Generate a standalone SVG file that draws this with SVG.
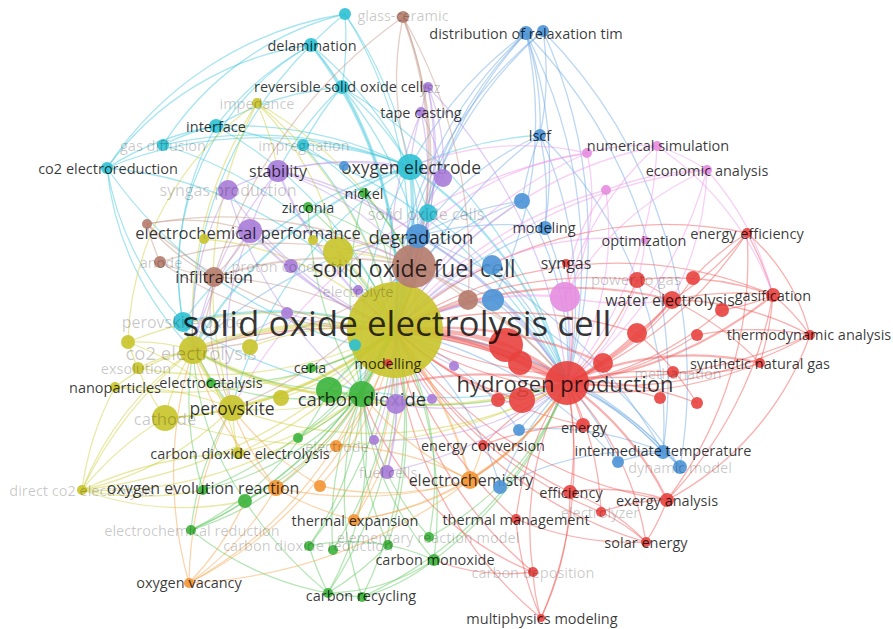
<svg xmlns="http://www.w3.org/2000/svg" width="893" height="629" viewBox="0 0 893 629">
<style>
.e{fill:none;stroke-width:1.3;stroke-opacity:.45}
.r{stroke:#ef5350}.g{stroke:#5ec75e}.b{stroke:#6aa6e2}.y{stroke:#cfcf3c}.p{stroke:#b792e6}.c{stroke:#3fc6dc}.o{stroke:#f4a44c}.br{stroke:#c29486}.pk{stroke:#ef96e8}
.w2{stroke-width:2.2}.w3{stroke-width:3.2}.w4{stroke-width:4.5}.w6{stroke-width:6.5}
.cr{fill:#e8413e}.cg{fill:#3cb43c}.cb{fill:#4b93d6}.cy{fill:#c9c42b}.cp{fill:#a77bd8}.cc{fill:#2cc1d4}.co{fill:#f39433}.cbr{fill:#b57b6c}.cpk{fill:#e68de0}
circle{fill-opacity:.9}
#nodes{font-size:14.5px}
.t{font-family:"Open Sans","Liberation Sans",sans-serif;text-anchor:middle;dominant-baseline:central;fill:#000;fill-opacity:.78}
.f{fill-opacity:.22}
</style>
<rect width="893" height="629" fill="#fff"/>
<g id="connectors">
<g class="e c">
<path d="M345,14 A400,400 0 0,1 395,330"/><path d="M345,14 A400,400 0 0,1 410,167"/><path d="M345,14 A300,300 0 0,0 311,45"/><path d="M345,14 A300,300 0 0,1 342,87"/>
<path d="M311,45 A400,400 0 0,1 395,330" class="w2"/><path d="M311,45 A400,400 0 0,1 410,167"/><path d="M311,45 A300,300 0 0,1 342,87"/><path d="M311,45 A300,300 0 0,0 216,126"/><path d="M311,45 A300,300 0 0,0 107,168"/><path d="M311,45 A260,260 0 0,0 183,322"/><path d="M311,45 A400,400 0 0,0 193,350"/>
<path d="M342,87 A400,400 0 0,1 395,330" class="w2"/><path d="M342,87 A300,300 0 0,1 410,167"/><path d="M342,87 A400,400 0 0,1 418,236"/><path d="M342,87 A300,300 0 0,0 216,126"/><path d="M342,87 A300,300 0 0,0 303,145"/><path d="M342,87 A300,300 0 0,0 278,171"/><path d="M342,87 A500,500 0 0,1 567,383"/>
<path d="M216,126 A400,400 0 0,1 395,330"/><path d="M216,126 A400,400 0 0,1 410,167"/><path d="M216,126 A200,200 0 0,0 163,145"/><path d="M216,126 A300,300 0 0,0 107,168"/><path d="M216,126 A300,300 0 0,0 183,322"/><path d="M216,126 A500,500 0 0,1 567,383"/>
<path d="M107,168 A400,400 0 0,1 395,330"/><path d="M107,168 A300,300 0 0,0 193,350"/><path d="M107,168 A300,300 0 0,0 183,322"/><path d="M107,168 A400,400 0 0,1 410,167"/><path d="M107,168 A450,450 0 0,0 355,345"/><path d="M107,168 A350,350 0 0,1 345,14"/>
<path d="M163,145 A400,400 0 0,1 395,330"/><path d="M163,145 A400,400 0 0,1 410,167"/><path d="M163,145 A300,300 0 0,1 345,14"/>
<path d="M303,145 A400,400 0 0,1 395,330"/><path d="M303,145 A300,300 0 0,1 410,167"/><path d="M303,145 A300,300 0 0,1 414,266"/>
<path d="M410,167 A400,400 0 0,1 395,330" class="w3"/><path d="M410,167 A300,300 0 0,1 418,236"/><path d="M410,167 A300,300 0 0,1 428,213"/><path d="M410,167 A400,400 0 0,1 567,383" class="w2"/><path d="M410,167 A400,400 0 0,0 183,322"/><path d="M410,167 A400,400 0 0,0 232,408"/><path d="M410,167 A400,400 0 0,0 193,350" class="w2"/><path d="M410,167 A400,400 0 0,1 540,135"/><path d="M410,167 A400,400 0 0,0 362,394"/>
<path d="M428,213 A400,400 0 0,1 395,330"/><path d="M428,213 A400,400 0 0,1 567,383"/>
<path d="M183,322 A400,400 0 0,1 395,330" class="w2"/><path d="M183,322 A200,200 0 0,0 193,350"/><path d="M183,322 A300,300 0 0,0 232,408"/><path d="M183,322 A500,500 0 0,0 567,383"/>
<path d="M355,345 A300,300 0 0,1 395,330"/><path d="M355,345 A300,300 0 0,1 362,394"/>
</g>
<g class="e b">
<path d="M526,33 A400,400 0 0,0 395,330"/><path d="M526,33 A400,400 0 0,0 418,236"/><path d="M526,33 A400,400 0 0,0 410,167"/><path d="M526,33 A300,300 0 0,1 540,135"/><path d="M526,33 A400,400 0 0,1 545,228"/><path d="M526,33 A400,400 0 0,1 493,300"/><path d="M526,33 A500,500 0 0,1 663,452"/><path d="M526,33 A500,500 0 0,1 567,383"/><path d="M526,33 A450,450 0 0,0 414,266"/>
<path d="M543,31 A400,400 0 0,0 395,330"/><path d="M543,31 A300,300 0 0,1 540,135"/><path d="M543,31 A400,400 0 0,0 418,236"/><path d="M543,31 A500,500 0 0,1 680,467"/><path d="M543,31 A500,500 0 0,1 567,383"/>
<path d="M540,135 A400,400 0 0,0 395,330"/><path d="M540,135 A300,300 0 0,0 418,236"/><path d="M540,135 A300,300 0 0,1 545,228"/><path d="M540,135 A300,300 0 0,0 522,201"/><path d="M540,135 A400,400 0 0,1 567,383"/><path d="M540,135 A400,400 0 0,1 663,452"/>
<path d="M522,201 A400,400 0 0,0 395,330"/><path d="M522,201 A300,300 0 0,0 418,236"/><path d="M522,201 A300,300 0 0,1 567,383"/><path d="M522,201 A300,300 0 0,0 414,266"/>
<path d="M545,228 A400,400 0 0,0 395,330"/><path d="M545,228 A300,300 0 0,1 567,383"/><path d="M545,228 A300,300 0 0,0 418,236"/>
<path d="M418,236 A400,400 0 0,0 395,330" class="w3"/><path d="M418,236 A400,400 0 0,1 567,383" class="w2"/><path d="M418,236 A400,400 0 0,0 193,350"/><path d="M418,236 A400,400 0 0,0 362,394"/>
<path d="M493,300 A300,300 0 0,0 395,330" class="w2"/><path d="M493,300 A300,300 0 0,1 567,383"/><path d="M492,265 A300,300 0 0,0 395,330"/><path d="M492,265 A300,300 0 0,1 567,383"/>
<path d="M663,452 A400,400 0 0,0 395,330"/><path d="M663,452 A300,300 0 0,0 567,383"/><path d="M663,452 A200,200 0 0,0 618,462"/><path d="M663,452 A200,200 0 0,1 680,467"/><path d="M663,452 A300,300 0 0,0 519,430"/><path d="M663,452 A500,500 0 0,0 418,236"/>
<path d="M680,467 A400,400 0 0,0 395,330"/><path d="M680,467 A300,300 0 0,0 567,383"/><path d="M680,467 A500,500 0 0,0 414,266"/>
<path d="M618,462 A400,400 0 0,0 395,330"/><path d="M618,462 A300,300 0 0,0 567,383"/><path d="M519,430 A300,300 0 0,0 395,330"/><path d="M519,430 A300,300 0 0,1 567,383"/>
<path d="M500,487 A300,300 0 0,0 395,330"/><path d="M500,487 A300,300 0 0,1 567,383"/><path d="M500,487 A300,300 0 0,1 663,452"/>
</g>
<g class="e r">
<path d="M567,383 A400,400 0 0,0 395,330" class="w6"/><path d="M567,383 A200,200 0 0,0 506,345" class="w3"/><path d="M567,383 A200,200 0 0,1 520,363" class="w2"/><path d="M567,383 A200,200 0 0,0 603,363" class="w2"/><path d="M567,383 A300,300 0 0,0 637,333" class="w2"/><path d="M567,383 A300,300 0 0,0 672,300" class="w2"/><path d="M567,383 A300,300 0 0,0 693,278"/><path d="M567,383 A400,400 0 0,0 773,295" class="w2"/><path d="M567,383 A300,300 0 0,0 722,310"/><path d="M567,383 A400,400 0 0,0 810,335"/><path d="M567,383 A300,300 0 0,0 697,335"/><path d="M567,383 A300,300 0 0,1 760,363" class="w2"/><path d="M567,383 A300,300 0 0,1 673,372"/><path d="M567,383 A300,300 0 0,1 660,398"/><path d="M567,383 A300,300 0 0,1 697,403"/><path d="M567,383 A300,300 0 0,1 583,425"/><path d="M567,383 A300,300 0 0,1 570,492"/><path d="M567,383 A300,300 0 0,1 667,500" class="w2"/><path d="M567,383 A300,300 0 0,1 601,512"/><path d="M567,383 A300,300 0 0,0 516,519"/><path d="M567,383 A300,300 0 0,1 646,542"/><path d="M567,383 A400,400 0 0,1 541,618"/><path d="M567,383 A300,300 0 0,0 533,572"/><path d="M567,383 A400,400 0 0,0 747,233"/><path d="M567,383 A300,300 0 0,0 637,280"/><path d="M567,383 A300,300 0 0,0 566,263"/><path d="M567,383 A300,300 0 0,0 483,445"/><path d="M567,383 A400,400 0 0,0 362,394" class="w2"/><path d="M567,383 A500,500 0 0,0 193,350"/><path d="M567,383 A300,300 0 0,1 470,480"/><path d="M567,383 A300,300 0 0,1 522,400"/><path d="M567,383 A300,300 0 0,0 498,400"/>
<path d="M395,330 A300,300 0 0,1 506,345" class="w4"/><path d="M395,330 A300,300 0 0,1 520,363" class="w2"/><path d="M395,330 A300,300 0 0,0 522,400" class="w2"/><path d="M395,330 A400,400 0 0,1 672,300" class="w2"/><path d="M395,330 A400,400 0 0,1 773,295"/><path d="M395,330 A500,500 0 0,0 810,335"/><path d="M395,330 A400,400 0 0,0 760,363"/><path d="M395,330 A400,400 0 0,1 747,233"/><path d="M395,330 A400,400 0 0,0 667,500"/><path d="M395,330 A400,400 0 0,0 646,542"/><path d="M395,330 A400,400 0 0,0 570,492"/><path d="M395,330 A400,400 0 0,1 603,363" class="w2"/><path d="M395,330 A400,400 0 0,1 637,333"/><path d="M395,330 A400,400 0 0,1 637,280"/><path d="M395,330 A400,400 0 0,0 583,425"/><path d="M395,330 A400,400 0 0,0 516,519"/><path d="M395,330 A400,400 0 0,0 601,512"/>
<path d="M773,295 A300,300 0 0,0 672,300"/><path d="M773,295 A300,300 0 0,0 637,280"/><path d="M773,295 A300,300 0 0,1 760,363"/><path d="M773,295 A200,200 0 0,1 810,335"/><path d="M773,295 A300,300 0 0,0 747,233"/><path d="M773,295 A200,200 0 0,1 722,310"/><path d="M773,295 A400,400 0 0,1 667,500"/>
<path d="M747,233 A300,300 0 0,1 672,300"/><path d="M747,233 A200,200 0 0,1 810,335"/><path d="M747,233 A300,300 0 0,0 693,278"/><path d="M747,233 A400,400 0 0,1 667,500"/>
<path d="M810,335 A300,300 0 0,1 667,500"/><path d="M810,335 A300,300 0 0,0 672,300"/><path d="M810,335 A300,300 0 0,0 697,335"/>
<path d="M667,500 A200,200 0 0,1 646,542"/><path d="M667,500 A200,200 0 0,0 570,492"/><path d="M667,500 A200,200 0 0,0 601,512"/>
<path d="M646,542 A200,200 0 0,0 570,492"/><path d="M646,542 A200,200 0 0,0 601,512"/><path d="M646,542 A300,300 0 0,1 516,519"/>
<path d="M541,618 A400,400 0 0,1 395,330"/><path d="M541,618 A300,300 0 0,1 516,519"/><path d="M541,618 A200,200 0 0,1 533,572"/><path d="M541,618 A300,300 0 0,0 570,492"/>
<path d="M533,572 A400,400 0 0,1 395,330"/><path d="M533,572 A300,300 0 0,1 362,394"/><path d="M533,572 A200,200 0 0,1 434,560"/>
<path d="M672,300 A200,200 0 0,0 637,280"/><path d="M672,300 A200,200 0 0,1 637,333"/><path d="M760,363 A300,300 0 0,0 672,300"/><path d="M760,363 A200,200 0 0,1 673,372"/><path d="M697,403 A300,300 0 0,0 637,333"/><path d="M583,425 A300,300 0 0,0 483,445"/>
</g>
<g class="e pk">
<path d="M565,297 A300,300 0 0,0 395,330" class="w2"/><path d="M565,297 A200,200 0 0,1 567,383"/><path d="M565,297 A300,300 0 0,1 657,146"/><path d="M565,297 A300,300 0 0,1 707,170"/><path d="M565,297 A200,200 0 0,1 606,190"/><path d="M565,297 A200,200 0 0,0 587,153"/><path d="M565,297 A300,300 0 0,0 672,300"/>
<path d="M657,146 A400,400 0 0,0 395,330"/><path d="M657,146 A200,200 0 0,0 587,153"/><path d="M657,146 A200,200 0 0,1 707,170"/><path d="M657,146 A300,300 0 0,1 773,295"/><path d="M657,146 A400,400 0 0,1 567,383"/>
<path d="M707,170 A400,400 0 0,1 567,383"/><path d="M707,170 A300,300 0 0,0 606,190"/><path d="M707,170 A300,300 0 0,1 773,295"/><path d="M707,170 A300,300 0 0,1 672,300"/><path d="M707,170 A500,500 0 0,0 395,330"/>
<path d="M587,153 A400,400 0 0,0 395,330"/><path d="M587,153 A300,300 0 0,0 410,167"/><path d="M587,153 A300,300 0 0,0 418,236"/><path d="M587,153 A500,500 0 0,0 232,408"/>
<path d="M606,190 A400,400 0 0,0 395,330"/><path d="M606,190 A300,300 0 0,1 567,383"/><path d="M645,240 A300,300 0 0,0 395,330"/><path d="M645,240 A200,200 0 0,1 567,383"/>
</g>
<g class="e y">
<path d="M395,330 A400,400 0 0,0 193,350" class="w4"/><path d="M395,330 A400,400 0 0,1 232,408" class="w3"/><path d="M395,330 A400,400 0 0,1 165,418" class="w2"/><path d="M395,330 A300,300 0 0,0 338,252" class="w2"/><path d="M395,330 A400,400 0 0,0 257,103"/><path d="M395,330 A400,400 0 0,1 115,387"/><path d="M395,330 A400,400 0 0,1 138,368"/><path d="M395,330 A500,500 0 0,1 82,490"/><path d="M395,330 A400,400 0 0,0 128,342"/><path d="M395,330 A300,300 0 0,0 250,347"/><path d="M395,330 A300,300 0 0,1 281,398"/><path d="M395,330 A400,400 0 0,1 238,453"/><path d="M395,330 A300,300 0 0,0 313,240"/><path d="M395,330 A300,300 0 0,0 204,239"/>
<path d="M193,350 A200,200 0 0,0 232,408" class="w2"/><path d="M193,350 A200,200 0 0,0 165,418"/><path d="M193,350 A200,200 0 0,0 115,387"/><path d="M193,350 A200,200 0 0,0 138,368"/><path d="M193,350 A200,200 0 0,0 128,342"/><path d="M193,350 A400,400 0 0,0 82,490"/><path d="M193,350 A200,200 0 0,1 211,383"/><path d="M193,350 A300,300 0 0,0 362,394" class="w2"/><path d="M193,350 A500,500 0 0,0 567,383" class="w2"/>
<path d="M82,490 A300,300 0 0,1 193,350"/><path d="M82,490 A300,300 0 0,0 232,408"/><path d="M82,490 A300,300 0 0,1 165,418"/><path d="M82,490 A300,300 0 0,0 245,501"/><path d="M82,490 A400,400 0 0,0 362,394"/><path d="M82,490 A300,300 0 0,0 203,490"/><path d="M82,490 A400,400 0 0,1 238,453"/><path d="M82,490 A300,300 0 0,1 115,387"/>
<path d="M257,103 A300,300 0 0,1 338,252"/><path d="M257,103 A300,300 0 0,1 278,171"/><path d="M257,103 A400,400 0 0,0 193,350"/><path d="M257,103 A400,400 0 0,0 232,408"/><path d="M257,103 A400,400 0 0,1 414,266"/>
<path d="M165,418 A300,300 0 0,0 232,408"/><path d="M165,418 A300,300 0 0,1 128,342"/><path d="M165,418 A500,500 0 0,0 567,383"/>
<path d="M338,252 A300,300 0 0,1 414,266"/><path d="M338,252 A300,300 0 0,1 418,236"/>
<path d="M238,453 A300,300 0 0,0 193,350"/><path d="M238,453 A300,300 0 0,0 362,394"/><path d="M238,453 A300,300 0 0,1 232,408"/>
<path d="M232,408 A300,300 0 0,0 362,394"/><path d="M232,408 A400,400 0 0,0 567,383"/><path d="M115,387 A300,300 0 0,1 232,408"/><path d="M128,342 A300,300 0 0,1 232,408"/><path d="M128,342 A300,300 0 0,1 257,103"/>
</g>
<g class="e g">
<path d="M362,394 A300,300 0 0,1 395,330" class="w4"/><path d="M362,394 A200,200 0 0,1 329,390"/><path d="M362,394 A300,300 0 0,1 311,368"/><path d="M362,394 A300,300 0 0,1 211,383"/><path d="M362,394 A300,300 0 0,1 298,438"/><path d="M362,394 A300,300 0 0,1 245,501"/><path d="M362,394 A300,300 0 0,1 191,530"/><path d="M362,394 A300,300 0 0,1 309,546"/><path d="M362,394 A300,300 0 0,0 333,550"/><path d="M362,394 A300,300 0 0,0 388,545"/><path d="M362,394 A300,300 0 0,0 434,560"/><path d="M362,394 A300,300 0 0,1 328,593"/><path d="M362,394 A300,300 0 0,0 362,597"/><path d="M362,394 A300,300 0 0,0 429,537"/><path d="M362,394 A400,400 0 0,1 364,193"/><path d="M362,394 A400,400 0 0,1 308,207"/><path d="M362,394 A300,300 0 0,1 203,490"/>
<path d="M329,390 A300,300 0 0,1 395,330" class="w2"/><path d="M329,390 A400,400 0 0,0 567,383"/><path d="M329,390 A300,300 0 0,1 193,350"/>
<path d="M434,560 A400,400 0 0,0 395,330"/><path d="M434,560 A400,400 0 0,0 567,383"/><path d="M434,560 A200,200 0 0,1 328,593"/><path d="M434,560 A200,200 0 0,1 362,597"/><path d="M434,560 A200,200 0 0,0 309,546"/>
<path d="M328,593 A400,400 0 0,0 395,330"/><path d="M362,597 A400,400 0 0,0 395,330"/><path d="M362,597 A400,400 0 0,0 567,383"/><path d="M328,593 A300,300 0 0,0 388,545"/><path d="M328,593 A300,300 0 0,1 309,546"/><path d="M328,593 A400,400 0 0,1 245,501"/><path d="M362,597 A300,300 0 0,1 191,530"/>
<path d="M309,546 A400,400 0 0,0 395,330"/><path d="M333,550 A400,400 0 0,0 395,330"/><path d="M388,545 A400,400 0 0,0 395,330"/>
<path d="M245,501 A400,400 0 0,0 395,330"/><path d="M245,501 A300,300 0 0,1 193,350"/><path d="M245,501 A300,300 0 0,1 191,530"/>
<path d="M191,530 A400,400 0 0,0 395,330"/><path d="M191,530 A300,300 0 0,1 232,408"/><path d="M191,530 A300,300 0 0,0 329,390"/>
<path d="M364,193 A300,300 0 0,1 395,330"/><path d="M364,193 A300,300 0 0,1 414,266"/><path d="M308,207 A300,300 0 0,1 395,330"/><path d="M308,207 A300,300 0 0,1 414,266"/>
<path d="M311,368 A200,200 0 0,0 395,330"/><path d="M211,383 A300,300 0 0,0 395,330"/><path d="M203,490 A400,400 0 0,0 395,330"/><path d="M203,490 A300,300 0 0,1 193,350"/><path d="M298,438 A300,300 0 0,0 395,330"/><path d="M429,537 A300,300 0 0,0 395,330"/><path d="M429,537 A300,300 0 0,0 567,383"/>
</g>
<g class="e o">
<path d="M470,480 A400,400 0 0,0 395,330" class="w2"/><path d="M470,480 A300,300 0 0,0 567,383" class="w2"/><path d="M470,480 A300,300 0 0,1 362,394"/><path d="M470,480 A400,400 0 0,1 276,488"/><path d="M470,480 A300,300 0 0,1 354,520"/><path d="M470,480 A500,500 0 0,1 189,583"/><path d="M470,480 A300,300 0 0,0 336,446"/><path d="M470,480 A300,300 0 0,1 320,486"/><path d="M470,480 A200,200 0 0,0 483,445"/>
<path d="M189,583 A400,400 0 0,0 395,330"/><path d="M189,583 A400,400 0 0,1 232,408"/><path d="M189,583 A300,300 0 0,0 276,488"/><path d="M189,583 A400,400 0 0,1 193,350"/><path d="M189,583 A400,400 0 0,0 362,394"/><path d="M189,583 A300,300 0 0,0 245,501"/>
<path d="M354,520 A400,400 0 0,0 395,330"/><path d="M354,520 A300,300 0 0,1 276,488"/><path d="M354,520 A400,400 0 0,0 414,266"/><path d="M354,520 A300,300 0 0,0 567,383"/>
<path d="M276,488 A400,400 0 0,0 395,330"/><path d="M276,488 A300,300 0 0,1 193,350"/><path d="M276,488 A300,300 0 0,1 232,408"/>
<path d="M336,446 A300,300 0 0,0 395,330"/><path d="M320,486 A300,300 0 0,0 395,330"/><path d="M320,486 A300,300 0 0,1 232,408"/>
</g>
<g class="e p">
<path d="M278,171 A400,400 0 0,0 395,330" class="w2"/><path d="M278,171 A300,300 0 0,1 414,266"/><path d="M278,171 A300,300 0 0,1 410,167"/><path d="M278,171 A300,300 0 0,1 418,236"/><path d="M278,171 A200,200 0 0,0 250,231"/><path d="M278,171 A200,200 0 0,0 228,190"/><path d="M278,171 A300,300 0 0,1 443,178"/><path d="M278,171 A400,400 0 0,0 193,350"/><path d="M278,171 A500,500 0 0,1 567,383"/>
<path d="M250,231 A400,400 0 0,0 395,330" class="w2"/><path d="M250,231 A300,300 0 0,1 414,266"/><path d="M250,231 A300,300 0 0,0 193,350"/><path d="M250,231 A300,300 0 0,0 232,408"/><path d="M250,231 A200,200 0 0,1 291,266"/>
<path d="M228,190 A400,400 0 0,0 395,330"/><path d="M228,190 A300,300 0 0,0 193,350"/><path d="M228,190 A400,400 0 0,0 362,394"/>
<path d="M443,178 A300,300 0 0,0 395,330"/><path d="M443,178 A200,200 0 0,0 410,167"/><path d="M443,178 A200,200 0 0,0 428,87"/><path d="M443,178 A200,200 0 0,0 421,112"/>
<path d="M428,87 A400,400 0 0,1 395,330"/><path d="M428,87 A200,200 0 0,0 421,112"/><path d="M428,87 A300,300 0 0,1 414,266"/><path d="M428,87 A500,500 0 0,1 567,383"/>
<path d="M421,112 A400,400 0 0,0 395,330"/><path d="M421,112 A300,300 0 0,1 414,266"/><path d="M421,112 A300,300 0 0,0 410,167"/>
<path d="M396,404 A300,300 0 0,1 395,330"/><path d="M396,404 A300,300 0 0,0 567,383"/><path d="M396,404 A200,200 0 0,1 362,394"/><path d="M396,404 A200,200 0 0,0 432,399"/><path d="M396,404 A200,200 0 0,1 387,472"/>
<path d="M387,472 A400,400 0 0,0 395,330"/><path d="M387,472 A400,400 0 0,0 567,383"/><path d="M387,472 A300,300 0 0,1 362,394"/>
<path d="M291,266 A300,300 0 0,0 395,330"/><path d="M287,313 A300,300 0 0,0 395,330"/><path d="M356,290 A300,300 0 0,0 395,330"/><path d="M374,440 A300,300 0 0,0 395,330"/><path d="M454,366 A300,300 0 0,1 395,330"/><path d="M432,399 A300,300 0 0,1 395,330"/><path d="M374,440 A300,300 0 0,0 567,383"/><path d="M287,313 A300,300 0 0,1 193,350"/>
</g>
<g class="e br">
<path d="M403,17 A400,400 0 0,1 395,330"/><path d="M403,17 A400,400 0 0,1 414,266" class="w2"/><path d="M403,17 A300,300 0 0,0 410,167"/><path d="M403,17 A500,500 0 0,0 214,277"/><path d="M403,17 A500,500 0 0,1 468,300"/>
<path d="M414,266 A300,300 0 0,1 395,330" class="w4"/><path d="M414,266 A400,400 0 0,0 214,277" class="w2"/><path d="M414,266 A400,400 0 0,0 160,262"/><path d="M414,266 A400,400 0 0,0 147,224"/><path d="M414,266 A300,300 0 0,1 468,300"/><path d="M414,266 A300,300 0 0,1 418,236"/><path d="M414,266 A400,400 0 0,1 567,383" class="w2"/><path d="M414,266 A400,400 0 0,1 193,350"/><path d="M414,266 A400,400 0 0,1 232,408"/><path d="M414,266 A400,400 0 0,0 362,394"/>
<path d="M214,277 A400,400 0 0,1 395,330"/><path d="M214,277 A200,200 0 0,1 160,262"/><path d="M214,277 A200,200 0 0,1 147,224"/><path d="M214,277 A200,200 0 0,0 250,231"/><path d="M214,277 A200,200 0 0,1 193,350"/><path d="M214,277 A200,200 0 0,0 232,408"/>
<path d="M160,262 A400,400 0 0,0 395,330"/><path d="M160,262 A200,200 0 0,1 147,224"/><path d="M147,224 A400,400 0 0,0 395,330"/><path d="M147,224 A200,200 0 0,1 250,231"/>
<path d="M468,300 A300,300 0 0,0 395,330"/><path d="M468,300 A300,300 0 0,1 567,383"/>
</g>
</g>
<g id="nodes">
<g id="n-perovskite-oxide"><circle class="cc" cx="183" cy="322" r="10"/><text class="t f" x="183" y="322" font-size="16">perovskite oxide</text></g>
<g id="n-p287"><circle class="cp" cx="287" cy="313" r="6"/></g>
<g id="n-br468"><circle class="cbr" cx="468" cy="300" r="10"/></g>
<g id="n-b493"><circle class="cb" cx="493" cy="300" r="11"/></g>
<g id="n-pk565"><circle class="cpk" cx="565" cy="297" r="15"/></g>
<g id="n-r506"><circle class="cr" cx="506" cy="345" r="17"/></g>
<g id="n-soec"><circle class="cy" cx="395" cy="330" r="48"/><text class="t" x="397" y="322" font-size="35" fill-opacity=".85">solid oxide electrolysis cell</text></g>
<g id="n-sofc"><circle class="cbr" cx="414" cy="266" r="22"/><text class="t" x="414" y="268" font-size="23">solid oxide fuel cell</text></g>
<g id="n-hydrogen-production"><circle class="cr" cx="567" cy="383" r="22"/><text class="t" x="565" y="383" font-size="22">hydrogen production</text></g>
<g id="n-y338"><circle class="cy" cx="338" cy="252" r="15"/></g>
<g id="n-co2-electrolysis"><circle class="cy" cx="193" cy="350" r="14"/><text class="t f" x="191" y="352" font-size="18.5">co2 electrolysis</text></g>
<g id="n-perovskite"><circle class="cy" cx="232" cy="408" r="13"/><text class="t" x="232" y="408" font-size="17.5">perovskite</text></g>
<g id="n-g329"><circle class="cg" cx="329" cy="390" r="13"/></g>
<g id="n-carbon-dioxide"><circle class="cg" cx="362" cy="394" r="13"/><text class="t" x="362" y="398" font-size="18.5">carbon dioxide</text></g>
<g id="n-oxygen-electrode"><circle class="cc" cx="410" cy="167" r="13"/><text class="t" x="411" y="167" font-size="17.5">oxygen electrode</text></g>
<g id="n-cathode"><circle class="cy" cx="165" cy="418" r="13"/><text class="t f" x="165" y="418" font-size="16.5">cathode</text></g>
<g id="n-r522"><circle class="cr" cx="522" cy="400" r="13"/></g>
<g id="n-degradation"><circle class="cb" cx="418" cy="236" r="12"/><text class="t" x="421" y="236" font-size="18.5">degradation</text></g>
<g id="n-electrochemical-performance"><circle class="cp" cx="250" cy="231" r="12"/><text class="t" x="248" y="232" font-size="16.5">electrochemical performance</text></g>
<g id="n-r520"><circle class="cr" cx="520" cy="363" r="12"/></g>
<g id="n-stability"><circle class="cp" cx="278" cy="171" r="11"/><text class="t" x="278" y="171" font-size="16">stability</text></g>
<g id="n-r603"><circle class="cr" cx="603" cy="363" r="10"/></g>
<g id="n-r637"><circle class="cr" cx="637" cy="333" r="10"/></g>
<g id="n-b492"><circle class="cb" cx="492" cy="265" r="10"/></g>
<g id="n-syngas-production"><circle class="cp" cx="228" cy="190" r="10"/><text class="t f" x="228" y="190" font-size="16">syngas production</text></g>
<g id="n-p396"><circle class="cp" cx="396" cy="404" r="10"/></g>
<g id="n-infiltration"><circle class="cbr" cx="214" cy="277" r="10"/><text class="t" x="214" y="277" font-size="16">infiltration</text></g>
<g id="n-solid-oxide-cells"><circle class="cc" cx="428" cy="213" r="9"/><text class="t f" x="426" y="214" font-size="16">solid oxide cells</text></g>
<g id="n-p443"><circle class="cp" cx="443" cy="178" r="9"/></g>
<g id="n-electrochemistry"><circle class="co" cx="470" cy="480" r="9"/><text class="t" x="471" y="480" font-size="16">electrochemistry</text></g>
<g id="n-water-electrolysis"><circle class="cr" cx="672" cy="300" r="9"/><text class="t" x="670" y="300" font-size="16">water electrolysis</text></g>
<g id="n-power-to-gas"><circle class="cr" cx="637" cy="280" r="8"/><text class="t f" x="636" y="279" font-size="15">power to gas</text></g>
<g id="n-y250"><circle class="cy" cx="250" cy="347" r="8"/></g>
<g id="n-y281"><circle class="cy" cx="281" cy="398" r="8"/></g>
<g id="n-o276"><circle class="co" cx="276" cy="488" r="8"/></g>
<g id="n-b522"><circle class="cb" cx="522" cy="201" r="8"/></g>
<g id="n-r693"><circle class="cr" cx="693" cy="278" r="7"/></g>
<g id="n-r722"><circle class="cr" cx="722" cy="310" r="7"/></g>
<g id="n-gasification"><circle class="cr" cx="773" cy="295" r="7"/><text class="t" x="773" y="295">gasification</text></g>
<g id="n-r498"><circle class="cr" cx="498" cy="400" r="7"/></g>
<g id="n-y128"><circle class="cy" cx="128" cy="342" r="7"/></g>
<g id="n-g245"><circle class="cg" cx="245" cy="501" r="7"/></g>
<g id="n-fuel-cells"><circle class="cp" cx="387" cy="472" r="7"/><text class="t f" x="388" y="472">fuel cells</text></g>
<g id="n-efficiency"><circle class="cr" cx="570" cy="492" r="7"/><text class="t" x="571" y="492">efficiency</text></g>
<g id="n-exergy-analysis"><circle class="cr" cx="667" cy="500" r="7"/><text class="t" x="667" y="500">exergy analysis</text></g>
<g id="n-energy"><circle class="cr" cx="583" cy="425" r="7"/><text class="t" x="584" y="427">energy</text></g>
<g id="n-modeling"><circle class="cb" cx="545" cy="228" r="7"/><text class="t" x="544" y="227">modeling</text></g>
<g id="n-b543"><circle class="cb" cx="543" cy="31" r="6"/></g>
<g id="n-distribution"><circle class="cb" cx="526" cy="33" r="7"/><text class="t" x="526" y="33">distribution of relaxation tim</text></g>
<g id="n-reversible-soc"><circle class="cc" cx="342" cy="87" r="7"/><text class="t" x="342" y="86">reversible solid oxide cells</text></g>
<g id="n-delamination"><circle class="cc" cx="311" cy="45" r="7"/><text class="t" x="312" y="45">delamination</text></g>
<g id="n-interface"><circle class="cc" cx="216" cy="126" r="7"/><text class="t" x="216" y="126">interface</text></g>
<g id="n-proton-conductor"><circle class="cp" cx="291" cy="266" r="7"/><text class="t f" x="291" y="266">proton conductor</text></g>
<g id="n-intermediate-temperature"><circle class="cb" cx="663" cy="452" r="7"/><text class="t" x="663" y="450">intermediate temperature</text></g>
<g id="n-dynamic-model"><circle class="cb" cx="680" cy="467" r="7"/><text class="t f" x="680" y="467">dynamic model</text></g>
<g id="n-b500"><circle class="cb" cx="500" cy="487" r="7"/></g>
<g id="n-lscf"><circle class="cb" cx="540" cy="135" r="6"/><text class="t" x="540" y="135">lscf</text></g>
<g id="n-co2-electroreduction"><circle class="cc" cx="107" cy="168" r="6"/><text class="t" x="108" y="168">co2 electroreduction</text></g>
<g id="n-gas-diffusion"><circle class="cc" cx="163" cy="145" r="6"/><text class="t f" x="163" y="145">gas diffusion</text></g>
<g id="n-impregnation"><circle class="cc" cx="303" cy="145" r="6"/><text class="t f" x="304" y="145">impregnation</text></g>
<g id="n-c345"><circle class="cc" cx="345" cy="14" r="6"/></g>
<g id="n-glass-ceramic"><circle class="cbr" cx="403" cy="17" r="6"/><text class="t f" x="403" y="15">glass-ceramic</text></g>
<g id="n-r697a"><circle class="cr" cx="697" cy="335" r="6"/></g>
<g id="n-methanation"><circle class="cr" cx="673" cy="372" r="6"/><text class="t f" x="678" y="373">methanation</text></g>
<g id="n-r660"><circle class="cr" cx="660" cy="398" r="6"/></g>
<g id="n-r697b"><circle class="cr" cx="697" cy="403" r="6"/></g>
<g id="n-b618"><circle class="cb" cx="618" cy="462" r="6"/></g>
<g id="n-b519"><circle class="cb" cx="519" cy="430" r="6"/></g>
<g id="n-electrode"><circle class="co" cx="336" cy="446" r="6"/><text class="t f" x="337" y="446">electrode</text></g>
<g id="n-o320"><circle class="co" cx="320" cy="486" r="6"/></g>
<g id="n-thermal-expansion"><circle class="co" cx="354" cy="520" r="6"/><text class="t" x="355" y="520">thermal expansion</text></g>
<g id="n-carbon-monoxide"><circle class="cg" cx="434" cy="560" r="6"/><text class="t" x="435" y="559">carbon monoxide</text></g>
<g id="n-co2-electrolysis-2"><circle class="cy" cx="238" cy="453" r="6"/><text class="t" x="240" y="453">carbon dioxide electrolysis</text></g>
<g id="n-exsolution"><circle class="cy" cx="138" cy="368" r="6"/><text class="t f" x="136" y="368">exsolution</text></g>
<g id="n-anode"><circle class="cbr" cx="160" cy="262" r="6"/><text class="t f" x="161" y="262">anode</text></g>
<g id="n-c355"><circle class="cc" cx="355" cy="345" r="6"/></g>
<g id="n-br147"><circle class="cbr" cx="147" cy="224" r="5"/></g>
<g id="n-y313"><circle class="cy" cx="313" cy="240" r="5"/></g>
<g id="n-y204"><circle class="cy" cx="204" cy="239" r="5"/></g>
<g id="n-p432"><circle class="cp" cx="432" cy="399" r="5"/></g>
<g id="n-p374"><circle class="cp" cx="374" cy="440" r="5"/></g>
<g id="n-p454"><circle class="cp" cx="454" cy="366" r="5"/></g>
<g id="n-b344"><circle class="cb" cx="344" cy="166" r="5"/></g>
<g id="n-g298"><circle class="cg" cx="298" cy="438" r="5"/></g>
<g id="n-pk587"><circle class="cpk" cx="587" cy="153" r="5"/></g>
<g id="n-pk606"><circle class="cpk" cx="606" cy="190" r="5"/></g>
<g id="n-ysz"><circle class="cp" cx="428" cy="87" r="5"/><text class="t f" x="430" y="87">ysz</text></g>
<g id="n-tape-casting"><circle class="cp" cx="421" cy="112" r="5"/><text class="t" x="421" y="112">tape casting</text></g>
<g id="n-impedance"><circle class="cy" cx="257" cy="103" r="5"/><text class="t f" x="257" y="103">impedance</text></g>
<g id="n-numerical-simulation"><circle class="cpk" cx="657" cy="146" r="5"/><text class="t" x="658" y="145">numerical simulation</text></g>
<g id="n-economic-analysis"><circle class="cpk" cx="707" cy="170" r="5"/><text class="t" x="707" y="170">economic analysis</text></g>
<g id="n-energy-efficiency"><circle class="cr" cx="747" cy="233" r="5"/><text class="t" x="747" y="233">energy efficiency</text></g>
<g id="n-optimization"><circle class="cpk" cx="645" cy="240" r="4"/><text class="t" x="644" y="240">optimization</text></g>
<g id="n-syngas"><circle class="cr" cx="566" cy="263" r="4"/><text class="t" x="566" y="263" font-size="16">syngas</text></g>
<g id="n-thermodynamic-analysis"><circle class="cr" cx="810" cy="335" r="5"/><text class="t" x="809" y="334">thermodynamic analysis</text></g>
<g id="n-synthetic-natural-gas"><circle class="cr" cx="760" cy="363" r="5"/><text class="t" x="760" y="363">synthetic natural gas</text></g>
<g id="n-electrolyzer"><circle class="cr" cx="601" cy="512" r="5"/><text class="t f" x="600" y="512">electrolyzer</text></g>
<g id="n-thermal-management"><circle class="cr" cx="516" cy="519" r="5"/><text class="t" x="516" y="519">thermal management</text></g>
<g id="n-solar-energy"><circle class="cr" cx="646" cy="542" r="5"/><text class="t" x="646" y="542">solar energy</text></g>
<g id="n-carbon-deposition"><circle class="cr" cx="533" cy="572" r="5" fill-opacity=".4"/><text class="t f" x="533" y="572">carbon deposition</text></g>
<g id="n-multiphysics-modeling"><circle class="cr" cx="541" cy="618" r="4"/><text class="t" x="542" y="618">multiphysics modeling</text></g>
<g id="n-energy-conversion"><circle class="cr" cx="483" cy="445" r="5"/><text class="t" x="483" y="445">energy conversion</text></g>
<g id="n-oxygen-vacancy"><circle class="co" cx="189" cy="583" r="5"/><text class="t" x="189" y="582">oxygen vacancy</text></g>
<g id="n-g362"><circle class="cg" cx="362" cy="597" r="5"/></g>
<g id="n-carbon-recycling"><circle class="cg" cx="328" cy="593" r="5"/><text class="t" x="361" y="595">carbon recycling</text></g>
<g id="n-g333"><circle class="cg" cx="333" cy="550" r="5"/></g>
<g id="n-g388"><circle class="cg" cx="388" cy="545" r="5"/></g>
<g id="n-carbon-dioxide-reduction"><circle class="cg" cx="309" cy="546" r="5"/><text class="t f" x="308" y="545">carbon dioxide reduction</text></g>
<g id="n-electrochemical-reduction"><circle class="cg" cx="191" cy="530" r="5"/><text class="t f" x="192" y="530">electrochemical reduction</text></g>
<g id="n-elementary-reaction-model"><circle class="cg" cx="429" cy="537" r="5"/><text class="t f" x="428" y="537">elementary reaction model</text></g>
<g id="n-direct-co2"><circle class="cy" cx="82" cy="490" r="5"/><text class="t f" x="82" y="490" fill-opacity=".15">direct co2 electrolysis</text></g>
<g id="n-oxygen-evolution-reaction"><circle class="cg" cx="203" cy="490" r="5"/><text class="t" x="203" y="488" font-size="16">oxygen evolution reaction</text></g>
<g id="n-nanoparticles"><circle class="cy" cx="115" cy="387" r="5"/><text class="t" x="115" y="387">nanoparticles</text></g>
<g id="n-electrocatalysis"><circle class="cg" cx="211" cy="383" r="5"/><text class="t" x="211" y="382">electrocatalysis</text></g>
<g id="n-ceria"><circle class="cg" cx="311" cy="368" r="5"/><text class="t" x="310" y="367">ceria</text></g>
<g id="n-modelling"><circle class="cr" cx="388" cy="363" r="4"/><text class="t" x="388" y="363">modelling</text></g>
<g id="n-nickel"><circle class="cg" cx="364" cy="193" r="5"/><text class="t" x="364" y="193">nickel</text></g>
<g id="n-zirconia"><circle class="cg" cx="308" cy="207" r="5"/><text class="t" x="308" y="207">zirconia</text></g>
<g id="n-electrolyte"><circle class="cp" cx="358" cy="290" r="5"/><text class="t f" x="358" y="291">electrolyte</text></g>
</g>
</svg>
